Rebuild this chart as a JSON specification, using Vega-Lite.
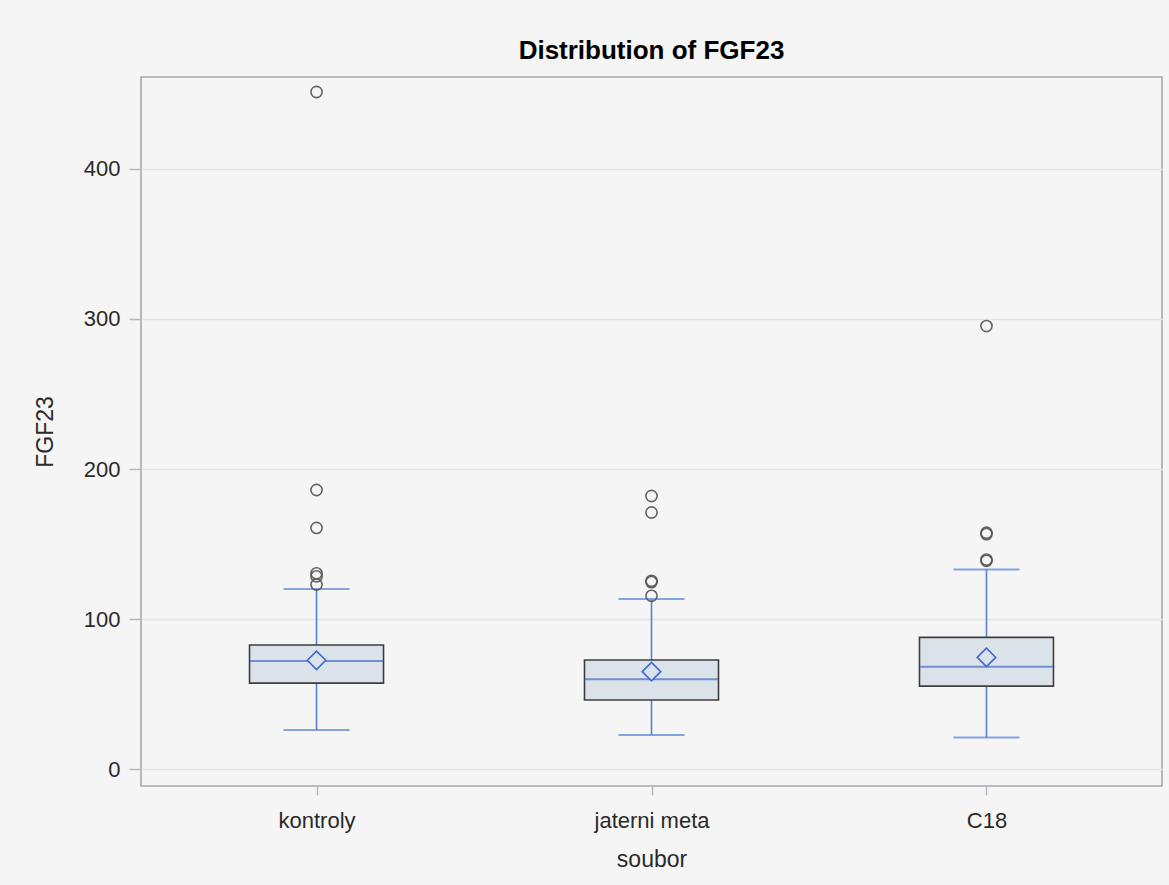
{
  "$schema": "https://vega.github.io/schema/vega-lite/v6.json",
  "autosize": {"type": "none"},
  "width": 1021,
  "height": 709,
  "padding": {"left": 141, "top": 77, "right": 7, "bottom": 99},
  "background": "#f5f5f5",
  "title": {
    "text": "Distribution of FGF23",
    "font": "Liberation Sans",
    "fontSize": 26,
    "fontWeight": "bold",
    "color": "#000000",
    "anchor": "middle",
    "baseline": "alphabetic",
    "offset": -8
  },
  "config": {
    "view": {"stroke": "#a3aab0", "strokeWidth": 1.6, "fill": "#f5f5f5"},
    "axis": {
      "labelFont": "Liberation Sans",
      "titleFont": "Liberation Sans",
      "labelFontSize": 22,
      "titleFontSize": 23,
      "labelColor": "#2a2a2a",
      "titleColor": "#2a2a2a",
      "titleFontWeight": "normal",
      "tickColor": "#b4b8bc",
      "tickWidth": 1.5,
      "domain": false
    }
  },
  "datasets": {
    "stats": [
      {"soubor": "kontroly", "lo": 26, "q1": 57.3, "med": 72, "mean": 72.5, "q3": 82.7, "hi": 120},
      {"soubor": "jaterni meta", "lo": 22.7, "q1": 46, "med": 59.8, "mean": 64.9, "q3": 72.7, "hi": 113.3},
      {"soubor": "C18", "lo": 21, "q1": 55.3, "med": 68.2, "mean": 74.4, "q3": 87.8, "hi": 133}
    ],
    "outliers": [
      {"soubor": "kontroly", "FGF23": 451.3},
      {"soubor": "kontroly", "FGF23": 186},
      {"soubor": "kontroly", "FGF23": 160.7},
      {"soubor": "kontroly", "FGF23": 130.5},
      {"soubor": "kontroly", "FGF23": 128.5},
      {"soubor": "kontroly", "FGF23": 123},
      {"soubor": "jaterni meta", "FGF23": 182},
      {"soubor": "jaterni meta", "FGF23": 171},
      {"soubor": "jaterni meta", "FGF23": 125.5},
      {"soubor": "jaterni meta", "FGF23": 124.6},
      {"soubor": "jaterni meta", "FGF23": 115.5},
      {"soubor": "C18", "FGF23": 295.3},
      {"soubor": "C18", "FGF23": 157.5},
      {"soubor": "C18", "FGF23": 156.6},
      {"soubor": "C18", "FGF23": 139.6},
      {"soubor": "C18", "FGF23": 138.8}
    ]
  },
  "layer": [
    {
      "data": {"name": "stats"},
      "mark": {"type": "rule", "color": "#5580d4", "strokeWidth": 1.6},
      "encoding": {
        "x": {
          "field": "soubor", "type": "nominal", "sort": null,
          "scale": {"type": "point", "padding": 0.524},
          "axis": {"title": "soubor", "labelAngle": 0, "tickSize": 9, "labelPadding": 15, "titlePadding": 17, "grid": false}
        },
        "y": {
          "field": "lo", "type": "quantitative",
          "scale": {"domain": [-11.3, 461.3], "nice": false, "zero": false},
          "axis": {"title": "FGF23", "values": [0, 100, 200, 300, 400], "tickSize": 12, "labelPadding": 9, "titlePadding": 26, "grid": true, "gridColor": "#e2e4e6", "gridWidth": 1.5}
        },
        "y2": {"field": "hi"}
      }
    },
    {
      "data": {"name": "stats"},
      "mark": {"type": "tick", "color": "#5580d4", "size": 66, "thickness": 2},
      "encoding": {
        "x": {"field": "soubor", "type": "nominal", "sort": null},
        "y": {"field": "lo", "type": "quantitative"}
      }
    },
    {
      "data": {"name": "stats"},
      "mark": {"type": "tick", "color": "#5580d4", "size": 66, "thickness": 2},
      "encoding": {
        "x": {"field": "soubor", "type": "nominal", "sort": null},
        "y": {"field": "hi", "type": "quantitative"}
      }
    },
    {
      "data": {"name": "stats"},
      "mark": {"type": "bar", "size": 134, "fill": "#dce2ea", "stroke": "#3e3e3e", "strokeWidth": 1.6},
      "encoding": {
        "x": {"field": "soubor", "type": "nominal", "sort": null},
        "y": {"field": "q1", "type": "quantitative"},
        "y2": {"field": "q3"}
      }
    },
    {
      "data": {"name": "stats"},
      "mark": {"type": "tick", "color": "#426cc9", "size": 133, "thickness": 2},
      "encoding": {
        "x": {"field": "soubor", "type": "nominal", "sort": null},
        "y": {"field": "med", "type": "quantitative"}
      }
    },
    {
      "data": {"name": "stats"},
      "mark": {"type": "point", "shape": "diamond", "size": 340, "filled": false, "stroke": "#3f6ad0", "strokeWidth": 1.6, "fill": "#dce2ea", "fillOpacity": 1, "opacity": 1},
      "encoding": {
        "x": {"field": "soubor", "type": "nominal", "sort": null},
        "y": {"field": "mean", "type": "quantitative"}
      }
    },
    {
      "data": {"name": "outliers"},
      "mark": {"type": "point", "shape": "circle", "size": 125, "filled": false, "stroke": "#555555", "strokeWidth": 1.6, "opacity": 0.9},
      "encoding": {
        "x": {"field": "soubor", "type": "nominal", "sort": null},
        "y": {"field": "FGF23", "type": "quantitative"}
      }
    }
  ]
}
